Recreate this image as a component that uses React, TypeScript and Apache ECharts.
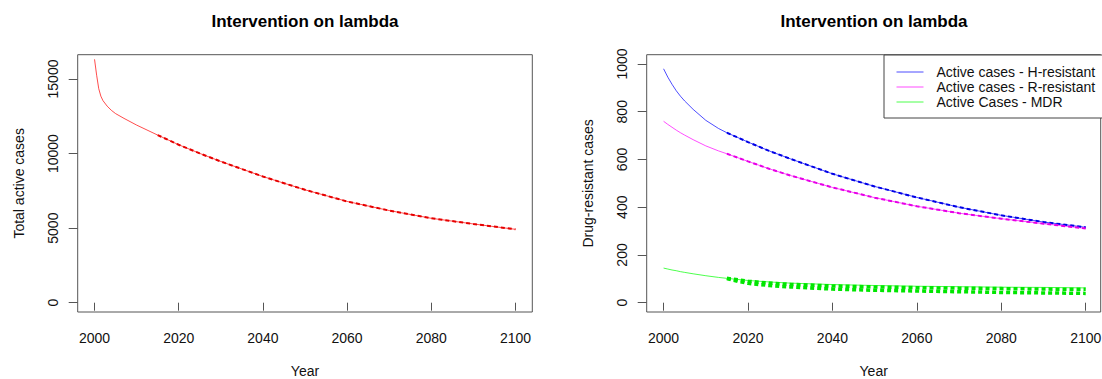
import React, { useEffect, useRef } from "react";
import * as echarts from "echarts";

// ---- Data ----
const totalYears = [2000, 2000.5, 2001, 2001.5, 2002, 2003, 2004, 2005, 2007, 2010, 2015, 2020, 2025, 2030, 2040, 2050, 2060, 2070, 2080, 2090, 2100];
const totalBaseline = [16320, 15250, 14350, 13850, 13550, 13180, 12900, 12680, 12360, 11910, 11240, 10590, 10010, 9470, 8460, 7570, 6790, 6180, 5660, 5280, 4920];
const interventionYears = [2015, 2020, 2025, 2030, 2040, 2050, 2060, 2070, 2080, 2090, 2100];
const totalIntervention = [11240, 10590, 10010, 9470, 8460, 7570, 6790, 6180, 5660, 5280, 4920];

const drYears = [2000, 2001, 2002, 2003, 2004, 2005, 2007, 2010, 2013, 2015, 2020, 2025, 2030, 2040, 2050, 2060, 2070, 2080, 2090, 2100];
const hResistant = [980, 945, 915, 888, 865, 845, 810, 764, 730, 712, 673, 636, 603, 540, 487, 441, 400, 366, 338, 316];
const rResistant = [760, 747, 735, 723, 712, 702, 683, 657, 636, 624, 592, 561, 533, 483, 440, 404, 375, 352, 331, 311];
const mdr = [145, 141, 137, 134, 130, 127, 121, 113, 106, 102, 93, 87, 82, 76, 72, 69, 67, 65, 64, 62];

const hIntervention = [712, 673, 636, 603, 540, 487, 441, 400, 366, 338, 316];
const rIntervention = [624, 592, 561, 533, 483, 440, 404, 375, 352, 331, 311];
const mdrInterventionYears = [2015, 2018, 2020, 2025, 2030, 2040, 2050, 2060, 2070, 2080, 2090, 2100];
const mdrInterventionUpper = [102, 95, 90, 82, 77, 70, 66, 63, 61, 59, 57, 56];
const mdrInterventionLower = [101, 88, 81, 72, 66, 57, 52, 49, 46, 43, 41, 39];

const xTicks = [2000, 2020, 2040, 2060, 2080, 2100];
const totalTicks = [0, 5000, 10000, 15000];
const drTicks = [0, 200, 400, 600, 800, 1000];

const title = "Intervention on lambda";
const legendNames = ["Active cases - H-resistant", "Active cases - R-resistant", "Active Cases - MDR"];

const pairs = (xs: number[], ys: number[]) => xs.map((x, i) => [x, ys[i]]);

const FONT = "'Liberation Sans', Arial, Helvetica, sans-serif";
const TEXT = "#111";
const FRAME = "#555";
const plain = (v: number) => String(v);

function xAxis(gridIndex: number, max: number) {
  return {
    type: "value",
    gridIndex,
    min: 1996,
    max,
    name: "Year",
    nameLocation: "middle",
    nameGap: 52,
    nameTextStyle: { fontFamily: FONT, fontSize: 14, color: TEXT },
    axisLine: { show: false },
    splitLine: { show: false },
    axisTick: { show: true, length: 8, customValues: xTicks, lineStyle: { color: FRAME } },
    axisLabel: { customValues: xTicks, formatter: plain, margin: 19, fontFamily: FONT, fontSize: 14, color: TEXT },
  };
}

function yAxis(gridIndex: number, min: number, max: number, ticks: number[], name: string) {
  return {
    type: "value",
    gridIndex,
    min,
    max,
    name,
    nameLocation: "middle",
    nameGap: 52,
    nameTextStyle: { fontFamily: FONT, fontSize: 14, color: TEXT },
    axisLine: { show: false },
    splitLine: { show: false },
    axisTick: { show: true, length: 9, customValues: ticks, lineStyle: { color: FRAME } },
    axisLabel: { customValues: ticks, formatter: plain, rotate: 90, margin: 18, fontFamily: FONT, fontSize: 14, color: TEXT },
  };
}

function solid(name: string, xi: number, data: number[][], color: string) {
  return {
    type: "line",
    name,
    xAxisIndex: xi,
    yAxisIndex: xi,
    data,
    symbol: "none",
    smooth: false,
    lineStyle: { color, width: 1, opacity: 0.7 },
    itemStyle: { color },
    emphasis: { disabled: true },
    z: 2,
  };
}

function dashed(name: string, xi: number, data: number[][], color: string, width: number) {
  return {
    type: "line",
    name,
    xAxisIndex: xi,
    yAxisIndex: xi,
    data,
    symbol: "none",
    smooth: false,
    lineStyle: { color, width, type: [4, 3] },
    itemStyle: { color },
    emphasis: { disabled: true },
    z: 3,
  };
}

export default function App() {
  const ref = useRef<HTMLDivElement>(null);
  useEffect(() => {
    if (!ref.current) return;
    const chart = echarts.init(ref.current, null, { renderer: "svg" });
    chart.setOption({
      animation: false,
      backgroundColor: "#ffffff",
      title: [
        { text: title, left: 305, top: 13, padding: 0, textAlign: "center", textStyle: { fontFamily: FONT, fontSize: 17, fontWeight: "bold", color: "#000" } },
        { text: title, left: 874, top: 13, padding: 0, textAlign: "center", textStyle: { fontFamily: FONT, fontSize: 17, fontWeight: "bold", color: "#000" } },
      ],
      legend: {
        data: legendNames,
        orient: "vertical",
        left: 884,
        top: 55,
        padding: [10, 14, 9, 12],
        itemGap: 1,
        itemWidth: 27,
        itemHeight: 14,
        itemStyle: { opacity: 0 },
        lineStyle: { width: 1 },
        backgroundColor: "#ffffff",
        borderColor: "#444",
        borderWidth: 1,
        borderRadius: 0,
        textStyle: { fontFamily: FONT, fontSize: 14, color: TEXT, padding: [0, 0, 0, 8] },
        selectedMode: false,
      },
      grid: [
        { left: 77.7, top: 54.7, width: 454.6, height: 257.3, show: true, borderColor: FRAME, borderWidth: 1, backgroundColor: "transparent", containLabel: false, outerBoundsMode: "none" },
        { left: 646.7, top: 54.7, width: 454, height: 257.3, show: true, borderColor: FRAME, borderWidth: 1, backgroundColor: "transparent", containLabel: false, outerBoundsMode: "none" },
      ],
      xAxis: [xAxis(0, 2104), xAxis(1, 2103.55)],
      yAxis: [
        yAxis(0, -624, 16630, totalTicks, "Total active cases"),
        yAxis(1, -39, 1039, drTicks, "Drug-resistant cases"),
      ],
      series: [
        solid("Total active cases", 0, pairs(totalYears, totalBaseline), "#ff0000"),
        dashed("Total intervention", 0, pairs(interventionYears, totalIntervention), "#e60000", 2),
        solid(legendNames[0], 1, pairs(drYears, hResistant), "#0000ff"),
        solid(legendNames[1], 1, pairs(drYears, rResistant), "#ff00ff"),
        solid(legendNames[2], 1, pairs(drYears, mdr), "#00ff00"),
        dashed("H intervention", 1, pairs(interventionYears, hIntervention), "#0000e6", 2),
        dashed("R intervention", 1, pairs(interventionYears, rIntervention), "#e600e6", 2),
        dashed("MDR intervention upper", 1, pairs(mdrInterventionYears, mdrInterventionUpper), "#00e600", 3.5),
        dashed("MDR intervention lower", 1, pairs(mdrInterventionYears, mdrInterventionLower), "#00e600", 3.5),
      ],
    });
    return () => chart.dispose();
  }, []);
  return <div ref={ref} style={{ position: "absolute", left: 0, top: 0, width: 1102, height: 379 }} />;
}
